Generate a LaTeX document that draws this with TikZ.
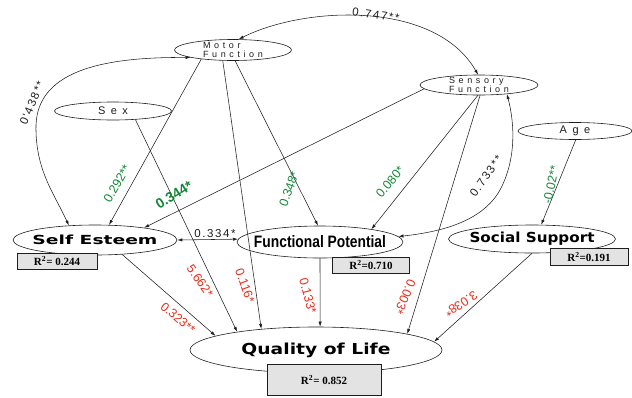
\documentclass[tikz,border=0pt]{standalone}
\usepackage{fontspec}
\usepackage{graphicx}
\setmainfont{Liberation Sans}
\newfontfamily\spacedA[LetterSpace=40]{Liberation Sans}
\newfontfamily\spacedB[LetterSpace=50]{Liberation Sans}
\newfontfamily\lblfont[LetterSpace=14]{Liberation Sans}
\newfontfamily\narrowfont{Liberation Sans}
\newfontfamily\dejab{DejaVu Sans Bold}
\newfontfamily\libb{Liberation Sans Bold}
\newfontfamily\rfont{Liberation Serif Bold}
\usetikzlibrary{shapes.geometric,arrows.meta}
\definecolor{gcol}{RGB}{20,135,55}
\definecolor{rcol}{RGB}{235,45,25}
\definecolor{dcol}{RGB}{30,30,30}
\newcommand{\wtext}[3]{\resizebox{#1}{#2}{\dejab #3}}
\newcommand{\ntext}[3]{\resizebox{#1}{#2}{\libb #3}}
\tikzset{
  ell/.style={draw=dcol, ellipse, inner sep=0pt, line width=0.6pt},
  arr/.style={-{Latex[length=5pt,width=3.2pt]}, line width=0.55pt, draw=dcol},
  dbl/.style={{Latex[length=5pt,width=3.2pt]}-{Latex[length=5pt,width=3.2pt]}, line width=0.55pt, draw=dcol},
  rbox/.style={draw=dcol, fill=gray!22, line width=0.6pt, inner sep=0pt,
    font={\rfont\fontsize{11}{11}\selectfont}},
  smalltxt/.style={align=left, font={\spacedA\fontsize{9}{9.5}\selectfont}, text=dcol},
  midtxt/.style={font={\spacedB\fontsize{11}{11}\selectfont}, text=dcol},
  dlab/.style={inner sep=0pt, text=dcol, font={\lblfont\fontsize{11.5}{11.5}\selectfont}},
  glab/.style={inner sep=0pt, text=gcol, font={\narrowfont\fontsize{12.5}{12.5}\selectfont}},
  gblab/.style={inner sep=0pt, text=gcol, font={\narrowfont\bfseries\fontsize{14}{14}\selectfont}},
  rlab/.style={inner sep=0pt, text=rcol, font={\narrowfont\fontsize{12.5}{12.5}\selectfont}}
}
\begin{document}
\begin{tikzpicture}[x=1pt,y=-1pt]
\useasboundingbox (0,0) rectangle (632,397);
% ellipses
\node[ell, minimum width=117pt, minimum height=21pt,
  label={[smalltxt]center:{Motor\\Function}}] (motor) at (233,50) {};
\node[ell, minimum width=118pt, minimum height=20pt,
  label={[smalltxt]center:{Sensory\\Function}}] (sensory) at (479,85) {};
\node[ell, minimum width=117pt, minimum height=18pt,
  label={[midtxt]center:Sex}] (sex) at (113,111) {};
\node[ell, minimum width=114pt, minimum height=17pt,
  label={[midtxt]center:Age}] (age) at (575,131) {};
\node[ell, minimum width=164pt, minimum height=30pt,
  label={center:\wtext{125pt}{9.5pt}{Self Esteem}}] (se) at (95,240) {};
\node[ell, minimum width=166pt, minimum height=32pt,
  label={center:\ntext{132pt}{12pt}{Functional Potential}}] (fp) at (320,242) {};
\node[ell, minimum width=167pt, minimum height=28pt,
  label={center:\wtext{125pt}{10.5pt}{Social Support}}] (ss) at (532,239) {};
\node[ell, minimum width=252pt, minimum height=46pt,
  label={center:\wtext{149pt}{11.5pt}{Quality of Life}}] (qol) at (316,350) {};
% correlations
\draw[dbl] (motor.62) .. controls (305,6) and (435,0) .. (sensory.95);
\draw[dbl] (motor.190) .. controls (110,57) and (38,68) .. (36,125)
  .. controls (35,170) and (55,195) .. (se.151);
\draw[dbl] (sensory.342) .. controls (515,125) and (516,160) .. (500,190)
  .. controls (482,222) and (440,232) .. (fp.4);
\draw[dbl] (se.east) -- (fp.178);
% paths
\draw[arr] (motor.196) -- (se.47);
\draw[arr] (sensory.184) -- (se.14);
\draw[arr] (motor.281) -- (fp.97);
\draw[arr] (motor.226) -- (qol.159);
\draw[arr] (sex.339) -- (qol.167);
\draw[arr] (sensory.264) -- (fp.14);
\draw[arr] (sensory.276) -- (qol.10);
\draw[arr] (age.275) -- (ss.57);
\draw[arr] (se.332) -- (qol.172);
\draw[arr] (fp.270) -- (qol.80);
\draw[arr] (ss.270) -- (qol.4);
% R2 boxes
\node[rbox, minimum width=80pt, minimum height=16pt] (r1) at (57,261) {R\textsuperscript{2}= 0.244};
\node[rbox, minimum width=77pt, minimum height=16pt] (r2) at (371,265) {R\textsuperscript{2}=0.710};
\node[rbox, minimum width=78pt, minimum height=17pt] (r3) at (589,257) {R\textsuperscript{2}=0.191};
\node[rbox, minimum width=114pt, minimum height=31pt] (r4) at (324,380) {R\textsuperscript{2}= 0.852};
% labels
\node[dlab, rotate=-8] (t747) at (376,15) {0.747**};
\node[dlab, rotate=67] (t438) at (32,103) {0'438**};
\node[dlab, rotate=55] (t733) at (486,176) {0.733**};
\node[dlab] (t334) at (215,234) {0.334*};
\node[glab, rotate=60] (t292) at (117,184) {0.292**};
\node[gblab, rotate=32] (t344) at (174,195) {0.344*};
\node[glab, rotate=70] (t348) at (289,189) {0.348*};
\node[glab, rotate=50] (t080) at (390,182) {0.080*};
\node[glab, rotate=78] (t002) at (551,185) {-0.02**};
\node[rlab, rotate=-55] (t662) at (200,281) {5.662*};
\node[rlab, rotate=-70] (t116) at (245,286) {0.116*};
\node[rlab, rotate=-40] (t323) at (178,318) {0.323**};
\node[rlab, rotate=-75] (t133) at (308,296) {0.133*};
\node[rlab, rotate=-113] (t003) at (405,297) {0.003*};
\node[rlab, rotate=-147] (t038) at (461,304) {3.038*};
\end{tikzpicture}
\end{document}
